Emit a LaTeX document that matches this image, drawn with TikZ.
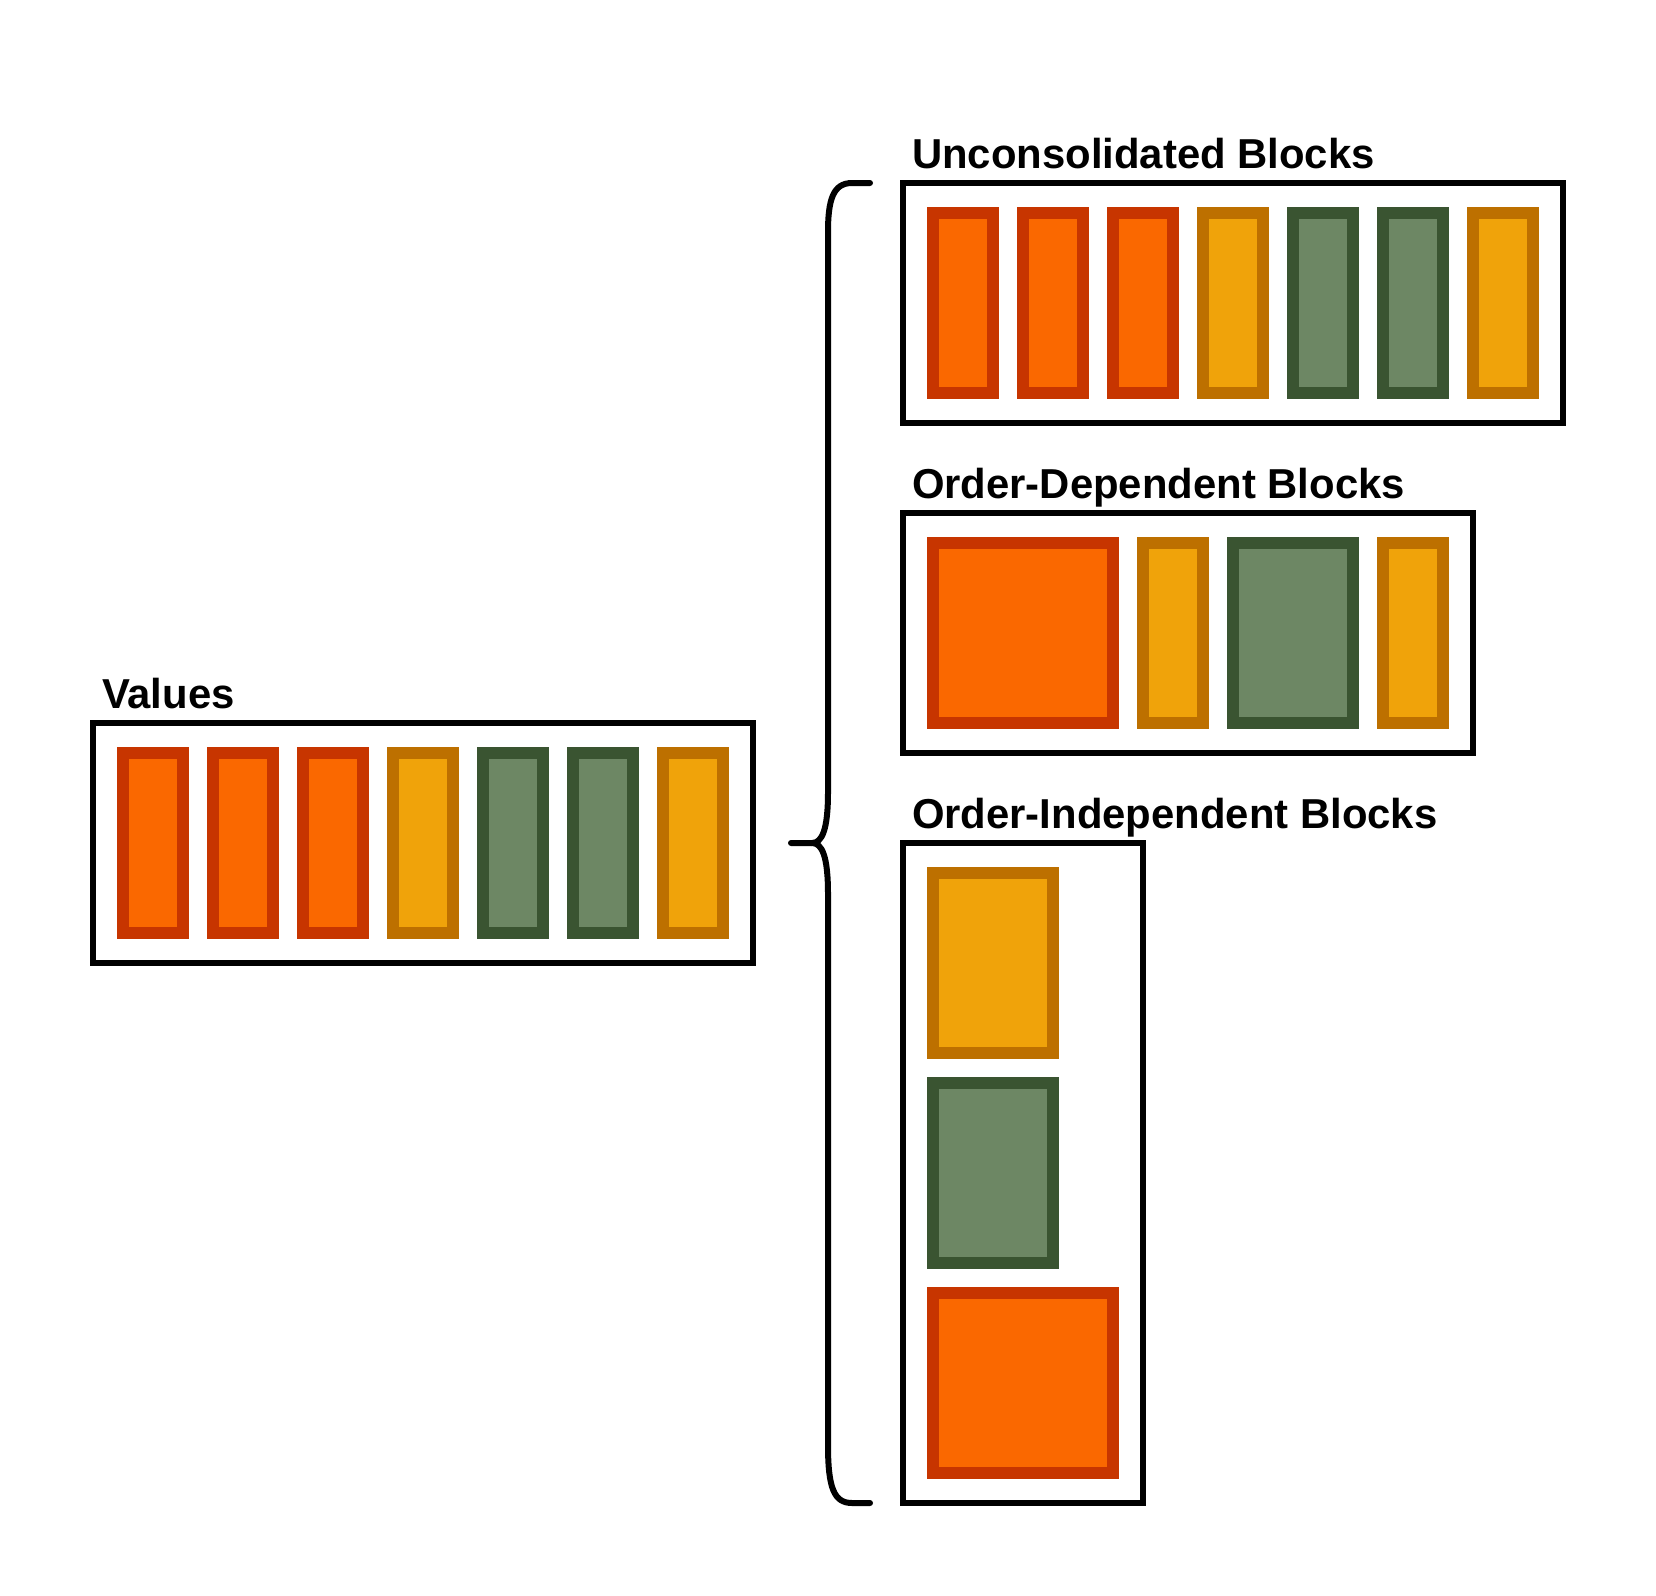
\documentclass[tikz,border=0pt]{standalone}
\usepackage{fontspec}
\setmainfont{Liberation Sans}
\definecolor{orF}{HTML}{FA6800}
\definecolor{orS}{HTML}{C73500}
\definecolor{amF}{HTML}{F0A30A}
\definecolor{amS}{HTML}{BD7000}
\definecolor{olF}{HTML}{6D8764}
\definecolor{olS}{HTML}{3A5431}
\begin{document}
\begin{tikzpicture}[x=1bp,y=-1bp,
  frame/.style={draw=black,line width=6bp,inner sep=0pt,outer sep=0pt,anchor=north west,fill=white},
  blk/.style={line width=12bp,inner sep=0pt,outer sep=0pt,anchor=north west,minimum width=60bp,minimum height=180bp},
  title/.style={anchor=base west,inner sep=0pt,outer sep=0pt,font=\bfseries\fontsize{42}{50}\selectfont},
  bracket/.style={draw=black,line width=6bp,line cap=round,line join=round}]
\useasboundingbox (0,0) rectangle (1656,1596);
% frames
\node[frame,minimum width=660bp,minimum height=240bp] (values) at (93,723) {};
\node[frame,minimum width=660bp,minimum height=240bp] (uncons) at (903,183) {};
\node[frame,minimum width=570bp,minimum height=240bp] (odep) at (903,513) {};
\node[frame,minimum width=240bp,minimum height=660bp] (oind) at (903,843) {};
% titles
\node[title] (tvalues) at (102,708) {Values};
\node[title] (tuncons) at (912,168) {Unconsolidated Blocks};
\node[title] (todep) at (912,498) {Order-Dependent Blocks};
\node[title] (toind) at (912,828) {Order-Independent Blocks};
% values and unconsolidated blocks
\foreach \i/\s/\f in {0/orS/orF,1/orS/orF,2/orS/orF,3/amS/amF,4/olS/olF,5/olS/olF,6/amS/amF}{
  \node[blk,draw=\s,fill=\f] (v\i) at (123+90*\i,753) {};
  \node[blk,draw=\s,fill=\f] (u\i) at (933+90*\i,213) {};
}
% order-dependent blocks
\node[blk,draw=orS,fill=orF,minimum width=180bp] (d0) at (933,543) {};
\node[blk,draw=amS,fill=amF] (d1) at (1143,543) {};
\node[blk,draw=olS,fill=olF,minimum width=120bp] (d2) at (1233,543) {};
\node[blk,draw=amS,fill=amF] (d3) at (1383,543) {};
% order-independent blocks
\node[blk,draw=amS,fill=amF,minimum width=120bp] (i0) at (933,873) {};
\node[blk,draw=olS,fill=olF,minimum width=120bp] (i1) at (933,1083) {};
\node[blk,draw=orS,fill=orF,minimum width=180bp] (i2) at (933,1293) {};
% brace
\coordinate (btop) at (870,183);
\coordinate (btip) at (791,843);
\coordinate (bbot) at (870,1503);
\path[bracket] (btop) -- (852,183) .. controls (833,183) and (828,200) .. (828,232)
  -- (828,792) .. controls (828,830) and (822,843) .. (812,843) -- (btip);
\path[bracket] (812,843) .. controls (822,843) and (828,856) .. (828,894)
  -- (828,1445) .. controls (828,1488) and (834,1503) .. (852,1503) -- (bbot);
\end{tikzpicture}
\end{document}
